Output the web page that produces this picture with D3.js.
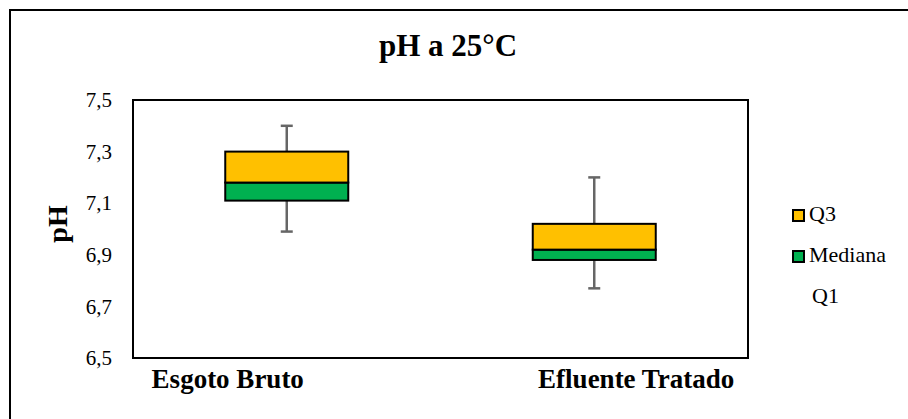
<!DOCTYPE html>
<head>
<style>
    body { margin: 0; background: #fff; }
</style>
</head>
<body>
<script src="https://cdn.jsdelivr.net/npm/d3@7"></script>
<script>
// values
var categories = ["Esgoto Bruto", "Efluente Tratado"];
var q1Vals     = [7.11, 6.88];
var medianVals = [7.18, 6.92];
var q3Vals     = [7.30, 7.02];
var minVals    = [6.99, 6.77];
var maxVals    = [7.40, 7.20];
var yTicks     = [6.5, 6.7, 6.9, 7.1, 7.3, 7.5];
var legendItems = [
    {name: "Q3", color: "#FFC000"},
    {name: "Mediana", color: "#00B050"},
    {name: "Q1", color: null}
];

var width = 908, height = 419;
var plot = {left: 133, top: 100, right: 748, bottom: 358};

var svg = d3.select("body").append("svg")
    .attr("width", width)
    .attr("height", height)
    .style("font-family", "'Liberation Serif', 'Times New Roman', serif");

svg.append("rect").attr("width", width).attr("height", height).attr("fill", "#fff");

// outer chart frame (runs off the right / bottom edge)
svg.append("rect")
    .attr("x", 10).attr("y", 10)
    .attr("width", 920).attr("height", 430)
    .attr("fill", "none").attr("stroke", "#000").attr("stroke-width", 2);

var x = d3.scaleBand()
    .domain(categories)
    .range([plot.left, plot.right])
    .paddingInner(0.6)
    .paddingOuter(0.3);

var y = d3.scaleLinear()
    .domain([6.5, 7.5])
    .range([plot.bottom, plot.top]);

var fmt = function(d) { return d3.format(".1f")(d).replace(".", ","); };

// title
svg.append("text")
    .attr("x", 448).attr("y", 56)
    .attr("text-anchor", "middle")
    .style("font-size", "31px").style("font-weight", "bold")
    .text("pH a 25°C");

// y axis labels
var yAxis = svg.append("g")
    .attr("transform", "translate(" + (plot.left - 21) + ",0)")
    .call(d3.axisLeft(y).tickValues(yTicks).tickFormat(fmt).tickSize(0).tickPadding(0));
yAxis.attr("font-family", null).attr("font-size", null);
yAxis.select(".domain").remove();
yAxis.selectAll("text")
    .style("font-size", "21px")
    .attr("fill", "#000");

svg.append("text")
    .attr("transform", "translate(67," + 224 + ") rotate(-90)")
    .attr("text-anchor", "middle")
    .style("font-size", "28px").style("font-weight", "bold")
    .text("pH");

// boxes
var data = categories.map(function(c, i) {
    return {cat: c, q1: q1Vals[i], med: medianVals[i], q3: q3Vals[i], min: minVals[i], max: maxVals[i]};
});

var g = svg.append("g");
var box = g.selectAll("g.box").data(data).enter().append("g").attr("class", "box");
var cx = function(d) { return x(d.cat) + x.bandwidth() / 2; };

var capW = 12;
box.append("line")
    .attr("x1", cx).attr("x2", cx)
    .attr("y1", function(d) { return y(d.q3); })
    .attr("y2", function(d) { return y(d.max); })
    .attr("stroke", "#666").attr("stroke-width", 2.5);
box.append("line")
    .attr("x1", cx).attr("x2", cx)
    .attr("y1", function(d) { return y(d.q1); })
    .attr("y2", function(d) { return y(d.min); })
    .attr("stroke", "#666").attr("stroke-width", 2.5);
["max", "min"].forEach(function(k) {
    box.append("line")
        .attr("x1", function(d) { return cx(d) - capW / 2; })
        .attr("x2", function(d) { return cx(d) + capW / 2; })
        .attr("y1", function(d) { return y(d[k]); })
        .attr("y2", function(d) { return y(d[k]); })
        .attr("stroke", "#666").attr("stroke-width", 2.5);
});

box.append("rect")
    .attr("x", function(d) { return x(d.cat); })
    .attr("width", x.bandwidth())
    .attr("y", function(d) { return y(d.med); })
    .attr("height", function(d) { return y(d.q1) - y(d.med); })
    .attr("fill", "#00B050").attr("stroke", "#000").attr("stroke-width", 2);
box.append("rect")
    .attr("x", function(d) { return x(d.cat); })
    .attr("width", x.bandwidth())
    .attr("y", function(d) { return y(d.q3); })
    .attr("height", function(d) { return y(d.med) - y(d.q3); })
    .attr("fill", "#FFC000").attr("stroke", "#000").attr("stroke-width", 2);

// plot area border
svg.append("rect")
    .attr("x", plot.left).attr("y", plot.top)
    .attr("width", plot.right - plot.left).attr("height", plot.bottom - plot.top)
    .attr("fill", "none").attr("stroke", "#000").attr("stroke-width", 2);

// category labels (Excel places them off-centre)
var labelShift = [-59, 42];
svg.selectAll("text.cat").data(categories).enter().append("text")
    .attr("class", "cat")
    .attr("x", function(d, i) { return x(d) + x.bandwidth() / 2 + labelShift[i]; })
    .attr("y", 388)
    .attr("text-anchor", "middle")
    .style("font-size", "27px").style("font-weight", "bold")
    .text(function(d) { return d; });

// legend
var leg = svg.append("g").attr("transform", "translate(793,210)");
var li = leg.selectAll("g").data(legendItems).enter().append("g")
    .attr("transform", function(d, i) { return "translate(0," + (i * 41) + ")"; });
li.filter(function(d) { return d.color; }).append("rect")
    .attr("width", 11).attr("height", 11)
    .attr("fill", function(d) { return d.color; })
    .attr("stroke", "#000").attr("stroke-width", 2);
li.append("text")
    .attr("x", function(d) { return d.color ? 16 : 19; })
    .attr("y", 11)
    .style("font-size", "22px")
    .text(function(d) { return d.name; });
</script>
</body>
